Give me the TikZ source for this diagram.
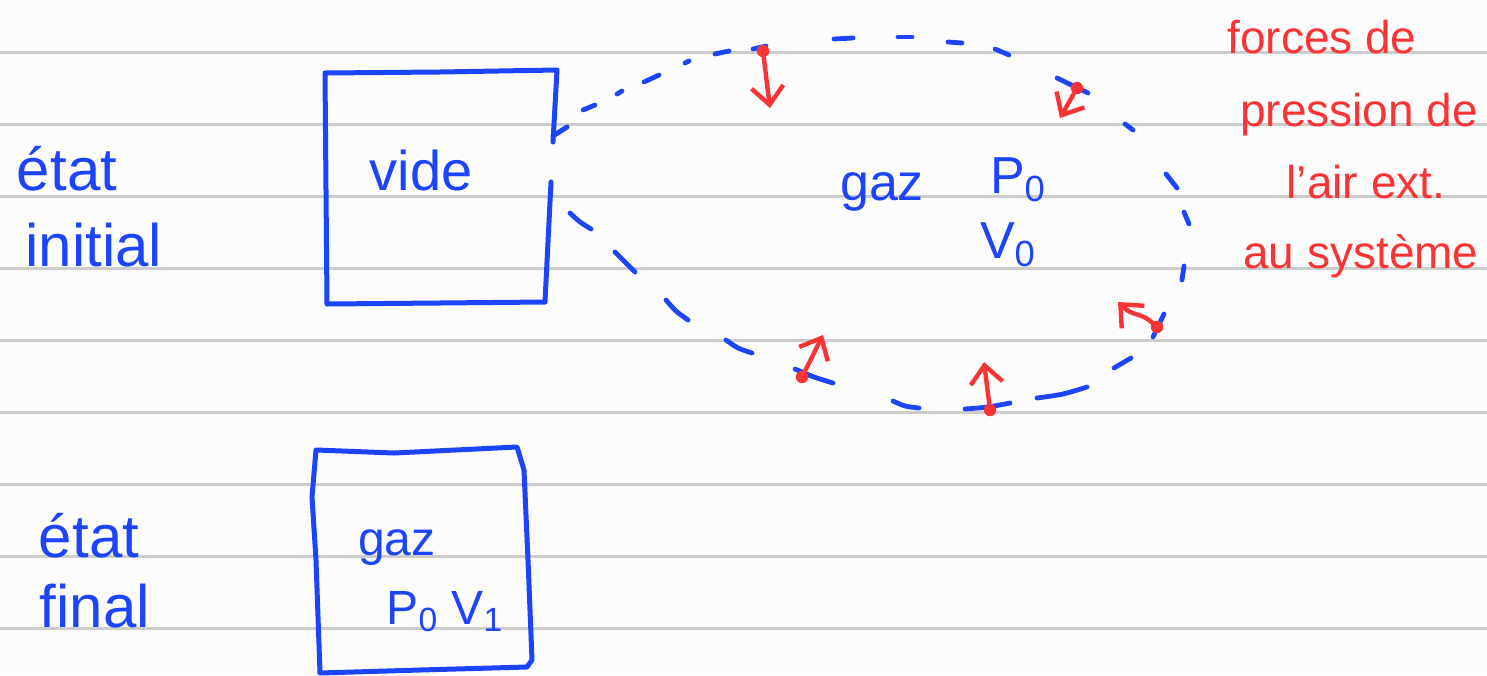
\documentclass[tikz,border=0pt]{standalone}
\usepackage{fontspec}
\setmainfont{Liberation Sans}
\usetikzlibrary{arrows.meta}
\definecolor{ink}{RGB}{28,68,250}
\definecolor{redink}{RGB}{250,52,52}
\definecolor{rulegray}{RGB}{204,204,204}
\definecolor{paper}{RGB}{252,252,252}

\begin{document}
\begin{tikzpicture}[x=0.5pt,y=-0.5pt,
  pen/.style={draw=ink,line width=2.5pt,line cap=round,line join=round},
  dsh/.style={draw=ink,line width=2.4pt,line cap=round},
  force/.style={draw=redink,line width=2.2pt,line cap=round,line join=round,
    -{Straight Barb[length=9pt,width=16pt,line width=2.2pt]}},
  dot/.style={fill=redink},
  bluetxt/.style={text=ink,inner sep=0pt,anchor=base},
  redtxt/.style={text=redink,inner sep=0pt,anchor=base,font=\fontsize{23}{28}\selectfont},
]
% paper and ruled lines
\fill[paper] (0,0) rectangle (1487,675);
\useasboundingbox (0,0) rectangle (1487,675);
\foreach \ly in {52,124,196,268,340,412,484,556,628}
  \draw[rulegray,line width=1.5pt] (0,\ly) -- (1487,\ly);

% initial state: container with an opening on its right side
\draw[pen] (553,142) -- (557,70) -- (440,72) -- (325,73) -- (326,190) -- (327,304) -- (440,303) -- (545,302) -- (551,182);
\draw[pen] (553,136) -- (567,127);

% dashed outline of the gas in the initial state
\draw[dsh] (583,110) -- (595,105);
\draw[dsh] (617,94) -- (622,91);
\draw[dsh] (644,82) -- (659,75);
\draw[dsh] (685,63) -- (689,61);
\draw[dsh] (715,54) -- (729,51);
\draw[dsh] (753,49) -- (766,46);
\draw[dsh] (834,39) -- (853,38);
\draw[dsh] (898,37) -- (912,37);
\draw[dsh] (948,42) -- (962,43);
\draw[dsh] (995,49) -- (1009,55);
\draw[dsh] (1057,78) -- (1088,93);
\draw[dsh] (1125,124) -- (1133,130);
\draw[dsh] (1166,174) -- (1177,188);
\draw[dsh] (1184,212) -- (1189,224);
\draw[dsh] (1184,266) -- (1182,280);
\draw[dsh] (1164,314) -- (1153,337);
\draw[dsh] (1131,358) -- (1114,368);
\draw[dsh] plot[smooth] coordinates {(1087,387) (1063,394) (1037,398)};
\draw[dsh] plot[smooth] coordinates {(1010,403) (988,407) (965,409)};
\draw[dsh] plot[smooth] coordinates {(919,408) (905,406) (893,401)};
\draw[dsh] plot[smooth] coordinates {(833,383) (814,377) (795,369)};
\draw[dsh] plot[smooth] coordinates {(752,353) (738,348) (726,340)};
\draw[dsh] plot[smooth] coordinates {(688,320) (676,311) (666,300)};
\draw[dsh] (635,272) -- (615,252);
\draw[dsh] plot[smooth] coordinates {(591,229) (580,222) (570,213)};

% pressure forces of the outside air
\coordinate (p1) at (763,51);   \coordinate (t1) at (770,108);
\coordinate (p2) at (1077,88);  \coordinate (t2) at (1060,118);
\coordinate (p3) at (1157,327); \coordinate (t3) at (1118,302);
\coordinate (p4) at (990,410);  \coordinate (t4) at (984,362);
\coordinate (p5) at (802,377);  \coordinate (t5) at (823,335);
\draw[force] (p1) -- (t1);
\draw[force] (p2) -- (t2);
\draw[force] (p3) .. controls (1140,310) and (1134,318) .. (t3);
\draw[force] (p4) -- (t4);
\draw[force] (p5) -- (t5);
\foreach \p in {p1,p2,p3,p4,p5}
  \fill[dot] (\p) circle[radius=3.1pt];

% labels of the initial state
\node[bluetxt,font=\fontsize{30}{36}\selectfont] (etatA) at (67,190) {état};
\node[bluetxt,font=\fontsize{30}{36}\selectfont] (initA) at (94,266) {initial};
\node[bluetxt,font=\fontsize{28}{34}\selectfont] (vide) at (421,190) {vide};
\node[bluetxt,font=\fontsize{26}{32}\selectfont] (gazA) at (882,200) {gaz};
\node[bluetxt,font=\fontsize{26}{32}\selectfont] (pA) at (1018,193) {P\textsubscript{0}};
\node[bluetxt,font=\fontsize{26}{32}\selectfont] (vA) at (1008,258) {V\textsubscript{0}};

\node[redtxt] (f1) at (1322,53) {forces de};
\node[redtxt] (f2) at (1359,126) {pression de};
\node[redtxt] (f3) at (1366,198) {l'air ext.};
\node[redtxt] (f4) at (1361,268) {au système};

% final state
\draw[pen] (316,450) -- (394,453) -- (517,447) -- (524,470) -- (528,560) -- (532,660) -- (527,667) -- (420,670) -- (320,673) -- (316,560) -- (312,497) -- cycle;
\node[bluetxt,font=\fontsize{30}{36}\selectfont] (etatB) at (89,557) {état};
\node[bluetxt,font=\fontsize{30}{36}\selectfont] (finB) at (95,627) {final};
\node[bluetxt,font=\fontsize{24}{30}\selectfont] (gazB) at (397,555) {gaz};
\node[bluetxt,font=\fontsize{24}{30}\selectfont] (pvB) at (445,624) {P\textsubscript{0} V\textsubscript{1}};
\end{tikzpicture}
\end{document}
